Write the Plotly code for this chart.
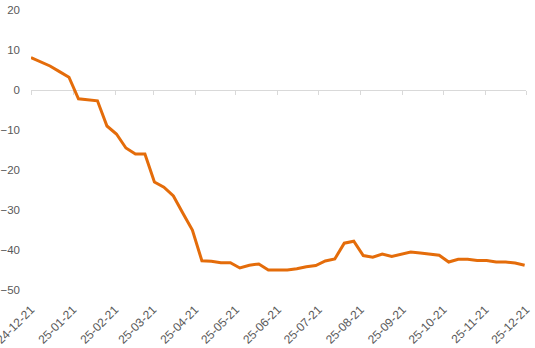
import pandas as pd
import plotly.graph_objects as go

# weekly observation dates
dates = pd.date_range("2024-12-21", periods=53, freq="7D")

values = [
    8.1, 7.0, 6.0, 4.6, 3.2, -2.2, -2.4, -2.7, -9.0, -11.0,
    -14.5, -16.0, -16.0, -23.0, -24.3, -26.5, -30.8, -35.0, -42.7, -42.8,
    -43.2, -43.2, -44.5, -43.8, -43.5, -45.0, -45.0, -45.0, -44.7, -44.2,
    -43.9, -42.75, -42.25, -38.3, -37.8, -41.4, -41.8, -41.0, -41.6, -41.0,
    -40.5, -40.75, -41.0, -41.3, -43.0, -42.3, -42.3, -42.6, -42.6, -43.0,
    -43.0, -43.25, -43.8,
]

tick_dates = ["2024-12-21", "2025-01-21", "2025-02-21", "2025-03-21", "2025-04-21",
              "2025-05-21", "2025-06-21", "2025-07-21", "2025-08-21", "2025-09-21",
              "2025-10-21", "2025-11-21", "2025-12-21"]
tick_labels = ["24-12-21", "25-01-21", "25-02-21", "25-03-21", "25-04-21",
               "25-05-21", "25-06-21", "25-07-21", "25-08-21", "25-09-21",
               "25-10-21", "25-11-21", "25-12-21"]
y_ticks = [20, 10, 0, -10, -20, -30, -40, -50]

y_min, y_max = -50, 20
x_range = [tick_dates[0], tick_dates[-1]]
FONT = "Liberation Sans"
TXT = "#595959"

fig = go.Figure()
# invisible helper trace so the zero-line axis (x2) is rendered
fig.add_trace(go.Scatter(x=dates, y=values, xaxis="x2", mode="lines",
                         line=dict(color="rgba(0,0,0,0)", width=0),
                         hoverinfo="skip", showlegend=False))
fig.add_trace(go.Scatter(x=dates, y=values, mode="lines",
                         line=dict(color="#E46C0A", width=3),
                         showlegend=False))

fig.update_layout(
    width=535, height=348,
    margin=dict(l=31, r=9, t=10, b=58),
    paper_bgcolor="white", plot_bgcolor="white",
    font=dict(family=FONT, size=11, color=TXT),
    xaxis=dict(type="date", range=x_range, tickvals=tick_dates, ticktext=tick_labels,
               tickangle=-45, showgrid=False, zeroline=False, showline=False,
               ticks="outside", ticklen=7, tickcolor="rgba(0,0,0,0)",
               automargin=False, ticklabeloverflow="allow",
               tickfont=dict(family=FONT, size=12, color=TXT)),
    xaxis2=dict(type="date", range=x_range, overlaying="x", anchor="free",
                position=(0 - y_min) / (y_max - y_min), tickvals=tick_dates,
                showticklabels=False, showgrid=False, zeroline=False,
                showline=True, linecolor="#D9D9D9", linewidth=1,
                ticks="outside", ticklen=4, tickcolor="#D9D9D9", tickwidth=1,
                layer="below traces", automargin=False),
    yaxis=dict(range=[y_min, y_max], tickvals=y_ticks, showgrid=False,
               zeroline=False, showline=False, ticks="",
               ticklabelstandoff=10, automargin=False,
               tickfont=dict(family=FONT, size=11.5, color=TXT)),
)

fig.write_html("out.html")
